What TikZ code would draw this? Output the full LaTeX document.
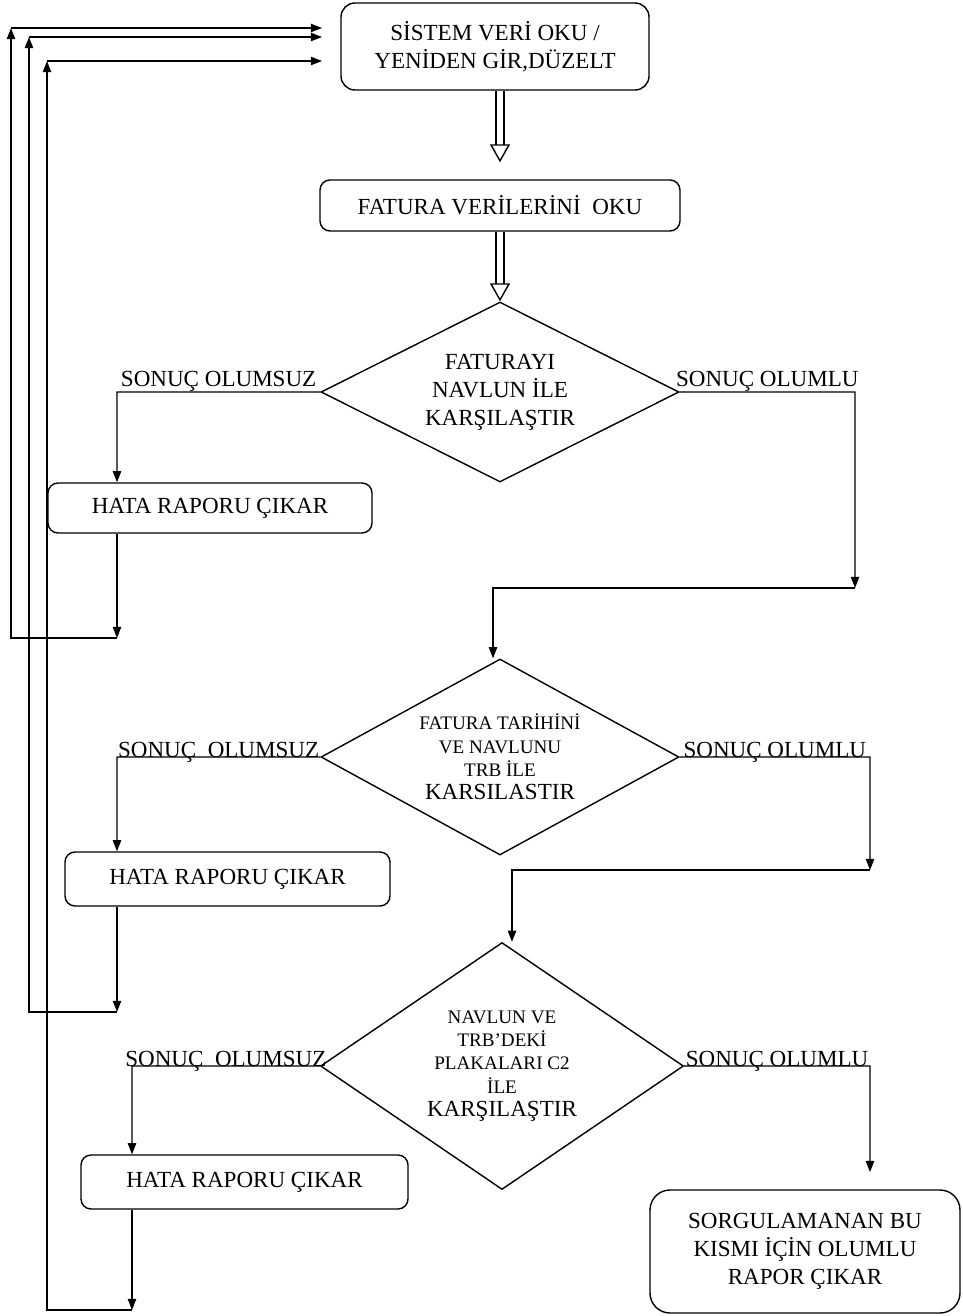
\documentclass[tikz,border=0pt]{standalone}
\usepackage{fontspec}
\setmainfont{Liberation Serif}
\usetikzlibrary{arrows.meta,shapes.geometric,positioning}

\newcommand{\bigtxt}{\fontsize{16.4}{19.9}\selectfont}
\newcommand{\smalltxt}{\fontsize{13.6}{16.6}\selectfont}

\begin{document}
\begin{tikzpicture}[node distance=2cm, align=center, font=\bigtxt, line width=1pt,
    >={Triangle[length=0.28cm,width=0.21cm]},
    box/.style={draw, rounded corners=0.25cm, inner sep=0pt},
    karar/.style={draw, diamond, inner sep=0pt},
    hollow/.style={double, double distance=0.16cm, -{Triangle[open,length=0.45cm,width=0.5cm]}},
    ustetiket/.style={anchor=base, yshift=0.15cm},
    etiket/.style={anchor=base}]

    \useasboundingbox (0,0) rectangle (24.075,-32.9);

    % ana akis
    \node(sistem) [box, rounded corners=0.35cm, minimum width=7.7cm, minimum height=2.175cm] at (12.375,-1.1625) {SİSTEM VERİ OKU /\\YENİDEN GİR,DÜZELT};
    \node(fatura) [box, minimum width=9cm, minimum height=1.275cm, below of=sistem, node distance=3.975cm, xshift=0.125cm] {FATURA VERİLERİNİ\ \ OKU};
    \node(karar1) [karar, aspect=1.99, minimum width=8.95cm, minimum height=4.5cm, below of=fatura, node distance=4.6625cm] {FATURAYI\\NAVLUN İLE\\KARŞILAŞTIR};
    \node(hata1) [box, minimum width=8.1cm, minimum height=1.25cm, below of=karar1, node distance=2.9cm, xshift=-7.25cm] {HATA RAPORU ÇIKAR};

    % karar 2
    \node(karar2) [karar, aspect=1.83, minimum width=8.95cm, minimum height=4.9cm, below of=karar1, node distance=9.125cm, font=\smalltxt] {FATURA TARİHİNİ\\VE NAVLUNU\\TRB İLE\\{\bigtxt KARSILASTIR}};
    \node(hata2) [box, minimum width=8.125cm, minimum height=1.35cm, below of=karar2, node distance=3.05cm, xshift=-6.8125cm] {HATA RAPORU ÇIKAR};

    % karar 3
    \node(karar3) [karar, aspect=1.47, minimum width=9.075cm, minimum height=6.175cm, below of=karar2, node distance=7.725cm, xshift=0.05cm, font=\smalltxt] {NAVLUN VE\\TRB’DEKİ\\PLAKALARI C2\\İLE\\{\bigtxt KARŞILAŞTIR}};
    \node(hata3) [box, minimum width=8.175cm, minimum height=1.35cm, below of=karar3, node distance=2.9cm, xshift=-6.4375cm] {HATA RAPORU ÇIKAR};
    \node(olumlu) [box, rounded corners=0.5cm, minimum width=7.75cm, minimum height=3.075cm, below of=karar3, node distance=4.6375cm, xshift=7.575cm] {SORGULAMANAN BU\\KISMI İÇİN OLUMLU\\RAPOR ÇIKAR};

    % kose noktalari
    \coordinate (sol1) at (2.925,-9.8);
    \coordinate (alt1) at (2.925,-15.95);
    \coordinate (don1) at (0.275,-15.95);
    \coordinate (ust1) at (0.275,-0.7);
    \coordinate (uc1) at (8.05,-0.7);
    \coordinate (sag1) at (21.375,-9.8);
    \coordinate (ara1) at (21.375,-14.7);
    \coordinate (orta1) at (12.325,-14.7);

    \coordinate (sol2) at (2.925,-18.925);
    \coordinate (alt2) at (2.925,-25.3);
    \coordinate (don2) at (0.725,-25.3);
    \coordinate (ust2) at (0.725,-0.925);
    \coordinate (uc2) at (8.05,-0.925);
    \coordinate (sag2) at (21.75,-18.925);
    \coordinate (ara2) at (21.75,-21.75);
    \coordinate (orta2) at (12.8,-21.75);

    \coordinate (sol3) at (3.3,-26.65);
    \coordinate (alt3) at (3.3,-32.75);
    \coordinate (don3) at (1.175,-32.75);
    \coordinate (ust3) at (1.175,-1.525);
    \coordinate (uc3) at (8.05,-1.525);
    \coordinate (sag3) at (21.75,-26.65);
    \coordinate (son) at (21.75,-29.3);

    % ana akis oklari
    \draw [hollow] (fatura.north |- sistem.south) -- ([yshift=0.425cm]fatura.north);
    \draw [hollow] (fatura.south) -- (karar1.north);

    % karar 1
    \draw [->] (karar1.west) -- node [ustetiket] {SONUÇ OLUMSUZ} (sol1) -- (sol1 |- hata1.north);
    \draw [->] (sol1 |- hata1.south) -- (alt1);
    \draw [->] (alt1) -- (don1) -- (ust1);
    \draw [->] (ust1) -- (uc1);
    \draw [->] (karar1.east) -- node [ustetiket] {SONUÇ OLUMLU} (sag1) -- (ara1);
    \draw [->] (ara1) -- (orta1) -- (orta1 |- karar2.north);

    % karar 2
    \draw [->] (karar2.west) -- node [etiket] {SONUÇ\ \ OLUMSUZ} (sol2) -- (sol2 |- hata2.north);
    \draw [->] (sol2 |- hata2.south) -- (alt2);
    \draw [->] (alt2) -- (don2) -- (ust2);
    \draw [->] (ust2) -- (uc2);
    \draw [->] (karar2.east) -- node [etiket] {SONUÇ OLUMLU} (sag2) -- (ara2);
    \draw [->] (ara2) -- (orta2) -- (orta2 |- karar3.north);

    % karar 3
    \draw [->] (karar3.west) -- node [etiket] {SONUÇ\ \ OLUMSUZ} (sol3) -- (sol3 |- hata3.north);
    \draw [->] (sol3 |- hata3.south) -- (alt3);
    \draw [->] (alt3) -- (don3) -- (ust3);
    \draw [->] (ust3) -- (uc3);
    \draw [->] (karar3.east) -- node [etiket] {SONUÇ OLUMLU} (sag3) -- (son);

\end{tikzpicture}
\end{document}
